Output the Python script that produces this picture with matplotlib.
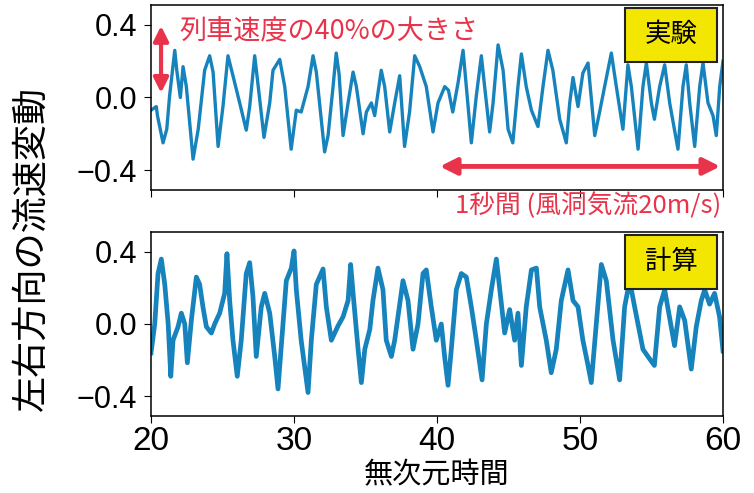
import matplotlib
matplotlib.use("Agg")
import matplotlib.pyplot as plt
from matplotlib.patches import Rectangle

# 実験 (top panel)
t_exp = [20.0, 20.37, 20.45, 20.84, 21.1, 21.3, 21.66, 21.8, 22.05, 22.24, 22.47, 22.94,
         23.3, 23.75, 24.1, 24.34, 24.69, 25.03, 25.38, 25.73, 26.2, 26.66, 26.9, 27.25,
         27.6, 27.9, 28.3, 28.53, 29.0, 29.35, 29.8, 30.16, 30.5, 30.98, 31.33, 31.56,
         32.14, 32.38, 32.73, 32.95, 33.15, 33.43, 33.78, 34.13, 34.36, 34.83, 35.06, 35.41,
         35.64, 36.1, 36.34, 36.69, 37.04, 37.39, 37.73, 38.08, 38.44, 38.79, 39.25, 39.72,
         40.07, 40.54, 40.8, 41.1, 41.47, 41.82, 42.05, 42.4, 42.75, 43.1, 43.33, 43.68,
         43.92, 44.27, 44.62, 44.97, 45.3, 45.66, 45.9, 46.24, 46.6, 47.06, 47.41, 47.76,
         48.1, 48.58, 49.04, 49.28, 49.51, 49.86, 50.2, 50.56, 51.03, 51.37, 51.72, 52.19,
         52.54, 53.0, 53.35, 53.59, 54.06, 54.4, 54.64, 54.99, 55.2, 55.57, 55.92, 56.27,
         56.85, 57.2, 57.43, 57.67, 58.02, 58.37, 58.6, 58.95, 59.3, 59.53, 59.77, 60.0]
v_exp = [-0.07, -0.05, -0.10, -0.25, -0.175, 0.01, 0.26, 0.15, 0.0, 0.17, 0.06, -0.34,
         -0.175, 0.15, 0.23, 0.14, -0.27, -0.05, 0.23, 0.12, -0.03, -0.18, -0.05, 0.23,
         -0.01, -0.22, -0.03, 0.15, 0.21, 0.06, -0.285, -0.07, -0.08, 0.06, 0.23, 0.14,
         -0.30, -0.21, 0.06, 0.245, 0.13, -0.21, -0.03, 0.14, 0.06, -0.20, -0.08, -0.03,
         -0.10, 0.15, 0.06, -0.19, -0.03, 0.12, -0.27, -0.08, 0.23, 0.17, 0.06, -0.19,
         -0.03, 0.06, 0.04, -0.08, 0.08, 0.26, 0.06, -0.25, 0.01, 0.23, 0.06, -0.19,
         -0.03, 0.29, 0.15, -0.175, -0.25, 0.06, 0.24, 0.06, -0.07, -0.16, 0.06, 0.26,
         0.15, -0.12, -0.25, -0.03, 0.11, -0.05, 0.135, 0.19, -0.21, -0.08, 0.06, 0.245,
         0.06, -0.175, 0.18, 0.06, -0.285, 0.06, 0.19, -0.03, -0.12, 0.06, 0.18, -0.03,
         -0.285, 0.06, 0.18, -0.03, -0.27, 0.06, 0.19, -0.03, -0.10, -0.21, 0.06, 0.2]

# 計算 (bottom panel)
t_cal = [20.0, 20.26, 20.49, 20.72, 20.96, 21.2, 21.38, 21.54, 21.89, 22.12, 22.36, 22.54,
         22.82, 23.17, 23.4, 23.63, 23.87, 24.22, 24.45, 24.8, 25.15, 25.31, 25.5, 25.73,
         26.03, 26.31, 26.66, 26.9, 27.13, 27.36, 27.71, 27.95, 28.3, 28.65, 28.88, 29.11,
         29.46, 29.81, 30.0, 30.16, 30.5, 30.98, 31.21, 31.56, 32.03, 32.26, 32.61, 33.08,
         33.43, 33.78, 33.96, 34.13, 34.48, 34.71, 34.95, 35.3, 35.52, 35.87, 36.22, 36.45,
         36.81, 37.04, 37.27, 37.62, 37.97, 38.32, 38.67, 39.02, 39.25, 39.6, 39.95, 40.3,
         40.53, 40.77, 41.0, 41.35, 41.7, 42.05, 42.4, 42.75, 43.15, 43.45, 43.8, 44.15,
         44.39, 44.73, 45.08, 45.43, 45.66, 45.9, 46.24, 46.6, 46.95, 47.18, 47.64, 47.99,
         48.34, 48.69, 49.16, 49.51, 49.86, 50.2, 50.56, 50.79, 51.14, 51.49, 51.84, 52.31,
         52.77, 53.12, 53.47, 53.82, 54.4, 54.75, 55.2, 55.57, 55.92, 56.38, 56.61, 56.97,
         57.32, 57.78, 58.13, 58.48, 58.72, 59.06, 59.41, 59.76, 60.0]
v_cal = [-0.16, 0.0, 0.28, 0.36, 0.22, 0.0, -0.29, -0.09, -0.015, 0.06, 0.0, -0.215,
         0.02, 0.26, 0.22, 0.095, -0.015, -0.05, 0.0, 0.06, 0.17, 0.39, 0.13, -0.09,
         -0.29, -0.09, 0.28, 0.34, 0.15, -0.18, 0.095, 0.17, 0.06, -0.18, -0.36, -0.12,
         0.24, 0.31, 0.405, 0.19, -0.09, -0.38, -0.09, 0.22, 0.305, 0.095, -0.09, -0.01,
         0.04, 0.13, 0.33, 0.17, -0.14, -0.325, -0.14, -0.03, 0.13, 0.31, 0.19, -0.09,
         -0.18, -0.09, 0.04, 0.24, 0.13, -0.14, 0.0, 0.28, 0.30, 0.095, -0.09, 0.0,
         -0.18, -0.34, -0.14, 0.19, 0.28, 0.26, 0.095, -0.09, -0.31, 0.0, 0.19, 0.36,
         0.19, -0.05, 0.08, -0.09, 0.06, -0.23, 0.095, 0.30, 0.31, 0.095, -0.09, -0.27,
         -0.14, 0.13, 0.30, 0.13, 0.095, -0.09, -0.23, -0.325, 0.0, 0.33, 0.24, -0.09,
         -0.31, 0.095, 0.24, 0.095, -0.14, -0.18, -0.23, 0.095, 0.19, -0.015, -0.12, 0.095,
         0.02, -0.25, -0.015, 0.13, 0.19, 0.11, 0.17, 0.04, -0.15]

x_ticks = [20, 30, 40, 50, 60]
y_ticks = [-0.4, 0.0, 0.4]
panel_names = ["実験", "計算"]

line_c = "#1683bd"
red = "#e8334a"
jp = ["Noto Sans CJK JP", "DejaVu Sans"]
plt.rcParams["font.family"] = ["Liberation Sans", "Noto Sans CJK JP", "DejaVu Sans"]

fig = plt.figure(figsize=(7.54, 4.93), dpi=100)
ax1 = fig.add_axes([0.2003, 0.6146, 0.7586, 0.3753])
ax2 = fig.add_axes([0.2003, 0.1562, 0.7586, 0.3732])

ax1.plot(t_exp, v_exp, color=line_c, lw=2.4, solid_joinstyle="round")
ax2.plot(t_cal, v_cal, color=line_c, lw=3.4, solid_joinstyle="round")

for ax, name in zip([ax1, ax2], panel_names):
    ax.set_xlim(20, 60)
    ax.set_ylim(-0.51, 0.51)
    ax.set_xticks(x_ticks)
    ax.set_yticks(y_ticks)
    ax.set_yticklabels(["\u22120.4", "0.0", "0.4"])
    ax.tick_params(axis="y", labelsize=22, length=5, pad=5)
    ax.tick_params(axis="x", labelsize=24, length=5, pad=2)
    for s in ax.spines.values():
        s.set_linewidth(1.1)
    ax.add_patch(Rectangle((0.829, 0.692), 0.161, 0.292, transform=ax.transAxes,
                           facecolor="#f3e600", edgecolor="#222222", lw=1.5, zorder=5))
    ax.text(0.909, 0.838, name, transform=ax.transAxes, ha="center", va="center",
            fontsize=19, family=jp, zorder=6)

ax1.tick_params(axis="x", labelbottom=False)

# annotations
ax1.annotate("", xy=(20.7, 0.41), xytext=(20.7, 0.01),
             arrowprops=dict(arrowstyle="<|-|>", color=red, lw=3, mutation_scale=22))
ax1.text(22.0, 0.36, "列車速度の40%の大きさ", color=red, fontsize=19.5, family=jp,
         ha="left", va="center")
ax1.annotate("", xy=(40.0, -0.38), xytext=(60.0, -0.38),
             arrowprops=dict(arrowstyle="<|-|>", color=red, lw=3.5, mutation_scale=25))
fig.text(0.957, 0.583, "1秒間 (風洞気流20m/s)", color=red, fontsize=18.5, family=jp,
         ha="right", va="center")

fig.text(0.042, 0.497, "左右方向の流速変動", rotation=90, fontsize=26, family=jp,
         ha="center", va="center")
fig.text(0.5796, 0.036, "無次元時間", fontsize=21, family=jp, ha="center", va="center")

fig.savefig("out.png", dpi=100)
